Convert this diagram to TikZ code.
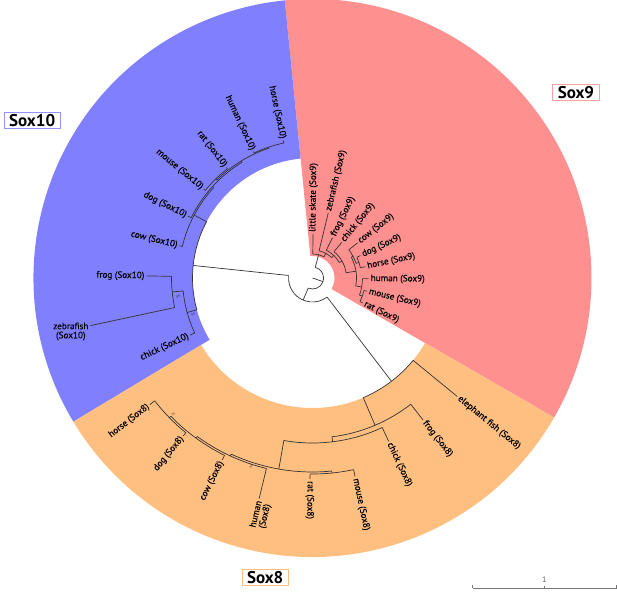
\documentclass[tikz,border=0pt]{standalone}
\usepackage{fontspec}
\setmainfont{PT Sans}
\newfontfamily\lblfont[FakeBold=0.35]{PT Sans}
\definecolor{cten}{HTML}{8080FF}
\definecolor{cnine}{HTML}{FF9090}
\definecolor{ceight}{HTML}{FFBF80}
\tikzset{
 br/.style={draw=black!80, line width=0.7pt},
 lbl/.style={font=\lblfont\fontsize{9.2}{10}\selectfont, inner sep=0pt, text=black},
 bsv/.style={font=\fontsize{3.5}{4}\selectfont, inner sep=0pt, text=black!80},
 bigbox/.style={font=\fontsize{17}{18}\selectfont\bfseries, draw, line width=0.6pt, inner xsep=5pt, inner ysep=2pt},
}
\newcommand{\rl}[3]{\draw[br] (#1:#2) -- (#1:#3);}
\newcommand{\ra}[3]{\draw[br] (#2:#1) arc[start angle=#2,end angle=#3,radius=#1];}
\newcommand{\labR}[4]{\node[lbl, rotate=#1, anchor=west] (#4) at (#1:#2) {#3};}
\newcommand{\labL}[4]{\node[lbl, rotate=#1-180, anchor=east] (#4) at (#1:#2) {#3};}
\begin{document}
\begin{tikzpicture}[x=1pt,y=1pt]
\useasboundingbox (0,0) rectangle (617,591);
\begin{scope}[shift={(312.5,313)}]
% colour ranges
\fill[cnine] (-30:22) arc[start angle=-30,end angle=95.7,radius=22] -- (95.7:279) arc[start angle=95.7,end angle=-30,radius=279] -- cycle;
\fill[cten] (95.7:120) arc[start angle=95.7,end angle=211,radius=120] -- (211:279) arc[start angle=211,end angle=95.7,radius=279] -- cycle;
\fill[ceight] (211:130) arc[start angle=211,end angle=330,radius=130] -- (330:279) arc[start angle=330,end angle=211,radius=279] -- cycle;
% root
\rl{341}{0}{11}
\ra{11}{247}{435.4}
\rl{247}{11}{24}
\ra{24}{174}{307.4}
\rl{174}{24}{120}
\rl{307.4}{24}{130}
% Sox10
\ra{120}{152}{195.4}
\rl{195.4}{120}{130}
\ra{130}{185.7}{205}
\rl{205}{130}{135}
\rl{185.7}{130}{141}
\ra{141}{179.3}{192.1}
\rl{179.3}{141}{166}
\rl{192.1}{141}{227}
\rl{152}{120}{134}
\ra{134}{137.5}{166.4}
\rl{166.4}{134}{137}
\rl{137.5}{134}{135.5}
\ra{135.5}{121.4}{153.6}
\rl{153.6}{135.5}{139}
\rl{121.4}{135.5}{137}
\ra{137}{108.5}{134.3}
\rl{108.5}{137}{138}
\ra{138}{102}{115}
\rl{102}{138}{140.5}
\rl{115}{138}{139.5}
\rl{134.3}{137}{138.5}
\ra{138.5}{127.9}{140.7}
\rl{127.9}{138.5}{140}
\rl{140.7}{138.5}{140.5}
% Sox8
\ra{130}{293}{320.7}
\rl{320.7}{130}{187}
\rl{293}{130}{160}
\ra{160}{277}{307.9}
\rl{307.9}{160}{180}
\rl{277}{160}{165}
\ra{165}{260}{295}
\rl{295}{165}{180}
\rl{260}{165}{194}
\ra{194}{245.2}{275.7}
\rl{275.7}{194}{196}
\ra{196}{269.3}{282.1}
\rl{269.3}{196}{201}
\rl{282.1}{196}{203}
\rl{245.2}{194}{196}
\ra{196}{234}{256.4}
\rl{256.4}{196}{227}
\rl{234}{196}{198}
\ra{198}{224.3}{243.6}
\rl{243.6}{198}{203}
\rl{224.3}{198}{200}
\ra{200}{217.9}{230.7}
\rl{217.9}{200}{206}
\rl{230.7}{200}{204}
% Sox9
\rl{75.4}{11}{24}
\ra{24}{61.55}{89.3}
\rl{89.3}{24}{44}
\rl{61.55}{24}{28}
\ra{28}{46.7}{76.4}
\rl{76.4}{28}{67}
\rl{46.7}{28}{31}
\ra{31}{29.8}{63.6}
\rl{63.6}{31}{45}
\rl{29.8}{31}{34}
\ra{34}{8.9}{50.7}
\rl{50.7}{34}{46}
\rl{8.9}{34}{44}
\ra{44}{-10.35}{28.2}
\rl{28.2}{44}{46}
\ra{46}{18.55}{37.9}
\rl{37.9}{46}{57}
\rl{18.55}{46}{49}
\ra{49}{12.1}{25}
\rl{25}{49}{53}
\rl{12.1}{49}{54}
\rl{-10.35}{44}{50}
\ra{50}{-20}{-0.7}
\rl{-0.7}{50}{56}
\rl{-20}{50}{53}
\ra{53}{-26.4}{-13.6}
\rl{-13.6}{53}{56}
\rl{-26.4}{53}{56}
% Sox9 labels
\labR{89.3}{46}{little skate (Sox9)}{s9a}
\labR{76.4}{69}{zebrafish (Sox9)}{s9b}
\labR{63.6}{47}{frog (Sox9)}{s9c}
\labR{50.7}{48}{chick (Sox9)}{s9d}
\labR{37.9}{59}{cow (Sox9)}{s9e}
\labR{25}{55}{dog (Sox9)}{s9f}
\labR{12.1}{56}{horse (Sox9)}{s9g}
\labR{-0.7}{58}{human (Sox9)}{s9h}
\labR{-13.6}{58}{mouse (Sox9)}{s9i}
\labR{-26.4}{58}{rat (Sox9)}{s9j}
% Sox10 labels
\labL{102}{142.5}{horse (Sox10)}{s10a}
\labL{115}{141.5}{human (Sox10)}{s10b}
\labL{127.9}{142}{rat (Sox10)}{s10c}
\labL{140.7}{142.5}{mouse (Sox10)}{s10d}
\labL{153.6}{141}{dog (Sox10)}{s10e}
\labL{166.4}{139}{cow (Sox10)}{s10f}
\labL{179.3}{168}{frog (Sox10)}{s10g}
\node[lbl, anchor=east] (s10h) at (192.1:229) {zebrafish};
\node[lbl, anchor=north] (s10hb) at ([yshift=-2pt]s10h.south) {(Sox10)};
\labL{205}{137}{chick (Sox10)}{s10i}
% Sox8 labels
\labL{217.9}{208}{horse (Sox8)}{s8a}
\labL{230.7}{206}{dog (Sox8)}{s8b}
\labL{243.6}{205}{cow (Sox8)}{s8c}
\labL{256.4}{229}{human}{s8d}
\node[lbl, rotate=76.4, anchor=north] (s8db) at ([shift={(-13.6:2pt)}]s8d.south) {(Sox8)};
\labR{269.3}{203}{rat (Sox8)}{s8e}
\labR{282.1}{205}{mouse (Sox8)}{s8f}
\labR{295}{182}{chick (Sox8)}{s8g}
\labR{307.9}{182}{frog (Sox8)}{s8h}
\labR{320.7}{189}{elephant fish (Sox8)}{s8i}
% support values
\node[bsv, rotate=8] (b89) at (187.9:135.5) {89};
\node[bsv, rotate=17] (b98) at (197:124.8) {98};
\node[bsv, rotate=44.5] (b75) at (224.5:195) {75};
\node[bsv, rotate=72] (b96) at (252:198) {96};
\end{scope}
% clade labels
\node[bigbox, draw=cten!85] (L10) at (32.2,470.6) {Sox10};
\node[bigbox, draw=cnine!85] (L9) at (575.9,498.9) {Sox9};
\node[bigbox, draw=ceight] (L8) at (265.2,13.8) {Sox8};
% scale bar
\coordinate (sbA) at (472.7,2.7);
\coordinate (sbB) at (616.5,2.7);
\coordinate (sbM) at (544.6,2.7);
\draw[draw=black!55, line width=0.8pt] (sbA) -- (sbB);
\draw[draw=black!55, line width=0.6pt] (sbA) -- ++(0,3) (sbB) -- ++(0,3) (sbM) -- ++(0,2);
\node[font=\fontsize{8}{9}\selectfont, text=black!60, inner sep=0pt] (sbL) at (544.4,11) {1};
\end{tikzpicture}
\end{document}
